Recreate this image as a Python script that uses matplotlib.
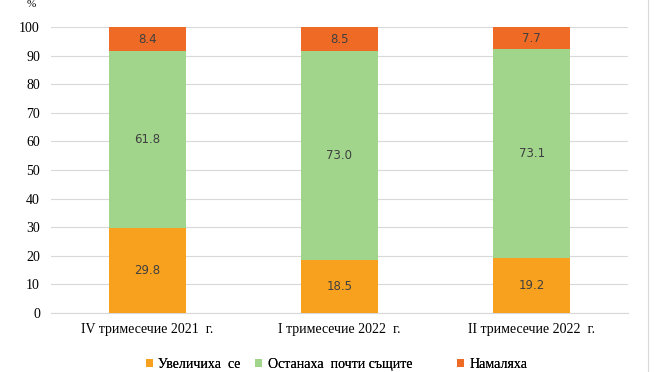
import matplotlib.pyplot as plt
import numpy as np

# Данни
categories = ['IV тримесечие 2021  г.', 'I тримесечие 2022  г.', 'II тримесечие 2022  г.']
increased = [29.8, 18.5, 19.2]
same = [61.8, 73.0, 73.1]
decreased = [8.4, 8.5, 7.7]
series_names = ['Увеличиха  се', 'Останаха  почти същите', 'Намаляха']
yticks = [0, 10, 20, 30, 40, 50, 60, 70, 80, 90, 100]

colors = ['#F7A11F', '#A0D58B', '#EE6A25']

fig = plt.figure(figsize=(6.63, 3.72), dpi=100)
ax = fig.add_axes([0.077, 0.159, 0.87, 0.768])

x = np.arange(len(categories))
width = 0.4
bottoms = np.zeros(len(categories))
handles = []
for vals, name, col in zip([increased, same, decreased], series_names, colors):
    bars = ax.bar(x, vals, width, bottom=bottoms, color=col, label=name, zorder=3)
    handles.append(bars)
    for b, v in zip(bars, vals):
        ax.text(b.get_x() + b.get_width() / 2, b.get_y() + b.get_height() / 2,
                '{:.1f}'.format(v), ha='center', va='center',
                fontsize=8.5, color='#404040', zorder=4)
    bottoms = bottoms + np.array(vals)

ax.set_xlim(-0.5, 2.5)
ax.set_ylim(0, 100)
ax.set_yticks(yticks)
ax.set_xticks(x)
ax.set_xticklabels(categories, family='Liberation Serif', fontsize=10)
for lab in ax.get_yticklabels():
    lab.set_family('Liberation Serif')
    lab.set_fontsize(10)
ax.tick_params(length=0, pad=8)
ax.tick_params(axis='x', pad=7)
ax.grid(axis='y', color='#D9D9D9', linewidth=0.8, zorder=0)
for s in ['top', 'right', 'left']:
    ax.spines[s].set_visible(False)
ax.spines['bottom'].set_color('#D9D9D9')

fig.text(0.047, 1.0, '%', family='Liberation Serif', fontsize=8, va='top', ha='center')

# Легенда - по един елемент, за да се нагласят позициите
leg_x = [0.22, 0.385, 0.69]
for h, name, lx in zip(handles, series_names, leg_x):
    lg = fig.legend([h], [name], loc='center left', bbox_to_anchor=(lx, 0.02),
                    frameon=False, prop={'family': 'Liberation Serif', 'size': 10},
                    handlelength=0.5, handleheight=0.5, handletextpad=0.4,
                    borderaxespad=0, borderpad=0)
    fig.add_artist(lg)

fig.add_artist(plt.Line2D([0.977, 0.977], [0, 1], color='#D9D9D9', linewidth=0.8))

fig.savefig('out.png', dpi=100)
